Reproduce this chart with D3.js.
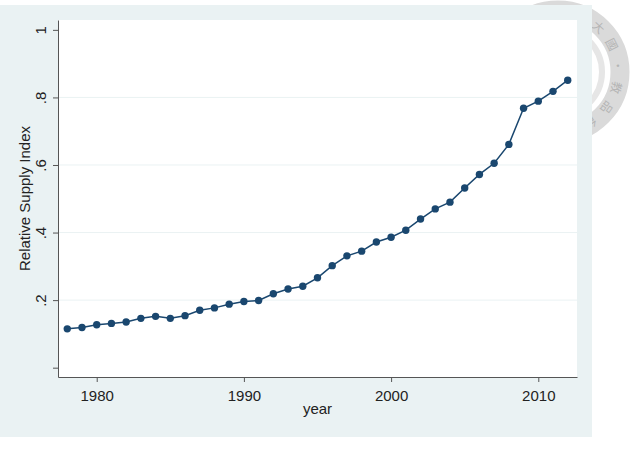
<!DOCTYPE html>
<html>
<head>
<meta charset="utf-8">
<script src="https://cdn.jsdelivr.net/npm/d3@7"></script>
<style>
  body { margin: 0; background: #ffffff; }
  text { font-family: "Liberation Sans", Arial, sans-serif; fill: #222; }
</style>
</head>
<body>
<div id="container"></div>
<script>
// data
var years = [1978, 1979, 1980, 1981, 1982, 1983, 1984, 1985, 1986, 1987,
             1988, 1989, 1990, 1991, 1992, 1993, 1994, 1995, 1996, 1997,
             1998, 1999, 2000, 2001, 2002, 2003, 2004, 2005, 2006, 2007,
             2008, 2009, 2010, 2011, 2012];
var supply = [0.115, 0.119, 0.127, 0.131, 0.135, 0.146, 0.152, 0.146, 0.154, 0.170,
              0.177, 0.188, 0.196, 0.199, 0.219, 0.233, 0.241, 0.266, 0.302, 0.331,
              0.345, 0.372, 0.386, 0.407, 0.440, 0.470, 0.490, 0.532, 0.572, 0.605,
              0.661, 0.768, 0.789, 0.818, 0.851];
var xTicks = [1980, 1990, 2000, 2010];
var yTicks = [0, 0.2, 0.4, 0.6, 0.8, 1];
var yTickLabels = ["", ".2", ".4", ".6", ".8", "1"];
var gridTicks = [0.2, 0.4, 0.6, 0.8];
var sealChars = ["大", "國", "·", "教", "品", "台"];

var width = 630,
    height = 451;

var svg = d3.select("#container").append("svg")
    .attr("width", width)
    .attr("height", height);

// faint seal behind the graph (top right)
var seal = svg.append("g").attr("transform", "translate(558,72)");
seal.append("circle")
    .attr("r", 62)
    .attr("fill", "none")
    .attr("stroke", "#dadada")
    .attr("stroke-width", 19);
seal.append("circle")
    .attr("r", 44)
    .attr("fill", "none")
    .attr("stroke", "#e6e6e6")
    .attr("stroke-width", 6);
seal.selectAll("text.seal")
    .data(sealChars)
    .enter().append("text")
    .attr("class", "seal")
    .attr("text-anchor", "middle")
    .attr("dy", "0.35em")
    .style("font-family", "'Noto Sans CJK TC', sans-serif")
    .style("font-size", "12px")
    .style("fill", "#b5b5b5")
    .attr("transform", function(d, i) {
        var deg = -48 + i * 21;
        return "rotate(" + (deg + 90) + ") translate(0,-60)";
    })
    .text(function(d) { return d; });

// graph region background
svg.append("rect")
    .attr("x", 0)
    .attr("y", 5)
    .attr("width", 592)
    .attr("height", 432)
    .attr("fill", "#eaf2f3");

var plot = {left: 58, right: 577, top: 20, bottom: 377};

svg.append("rect")
    .attr("x", plot.left)
    .attr("y", plot.top)
    .attr("width", plot.right - plot.left)
    .attr("height", plot.bottom - plot.top)
    .attr("fill", "#ffffff");

var x = d3.scaleLinear()
    .domain([1977.37, 2012.63])
    .range([plot.left, plot.right]);

var y = d3.scaleLinear()
    .domain([-0.0276, 1.0292])
    .range([plot.bottom, plot.top]);

// grid lines
svg.selectAll("line.grid")
    .data(gridTicks)
    .enter().append("line")
    .attr("class", "grid")
    .attr("x1", plot.left)
    .attr("x2", plot.right)
    .attr("y1", function(d) { return y(d); })
    .attr("y2", function(d) { return y(d); })
    .attr("stroke", "#eaf2f3")
    .attr("stroke-width", 1);

// axes
var xAxis = d3.axisBottom(x)
    .tickValues(xTicks)
    .tickFormat(d3.format("d"))
    .tickSize(5)
    .tickSizeOuter(0);

var gx = svg.append("g")
    .attr("transform", "translate(0," + plot.bottom + ")")
    .call(xAxis);
gx.select(".domain").attr("stroke", "#555");
gx.selectAll(".tick line").attr("stroke", "#555");
gx.selectAll(".tick text")
    .attr("y", 24)
    .attr("dy", 0)
    .style("font-size", "15px")
    .style("font-family", "'Liberation Sans', Arial, sans-serif")
    .attr("fill", "#222");

var yAxis = d3.axisLeft(y)
    .tickValues(yTicks)
    .tickFormat(function(d, i) { return yTickLabels[i]; })
    .tickSize(5)
    .tickSizeOuter(0);

var gy = svg.append("g")
    .attr("transform", "translate(" + plot.left + ",0)")
    .call(yAxis);
gy.select(".domain").attr("stroke", "#555");
gy.selectAll(".tick line").attr("stroke", "#555");
gy.selectAll(".tick text")
    .attr("x", 0)
    .attr("dy", 0)
    .attr("text-anchor", "middle")
    .attr("transform", "translate(-12.5,0) rotate(-90)")
    .style("font-size", "15px")
    .style("font-family", "'Liberation Sans', Arial, sans-serif")
    .attr("fill", "#222");

// axis titles
svg.append("text")
    .attr("x", (plot.left + plot.right) / 2)
    .attr("y", 414)
    .attr("text-anchor", "middle")
    .style("font-size", "15px")
    .text("year");

svg.append("text")
    .attr("transform", "translate(29.5," + ((plot.top + plot.bottom) / 2) + ") rotate(-90)")
    .attr("text-anchor", "middle")
    .style("font-size", "15px")
    .text("Relative Supply Index");

// connected line + markers
var pts = years.map(function(yr, i) { return {year: yr, value: supply[i]}; });

var line = d3.line()
    .x(function(d) { return x(d.year); })
    .y(function(d) { return y(d.value); });

svg.append("path")
    .datum(pts)
    .attr("d", line)
    .attr("fill", "none")
    .attr("stroke", "#1a476f")
    .attr("stroke-width", 1.5);

svg.selectAll("circle.pt")
    .data(pts)
    .enter().append("circle")
    .attr("class", "pt")
    .attr("cx", function(d) { return x(d.year); })
    .attr("cy", function(d) { return y(d.value); })
    .attr("r", 3.7)
    .attr("fill", "#1a476f");
</script>
</body>
</html>
